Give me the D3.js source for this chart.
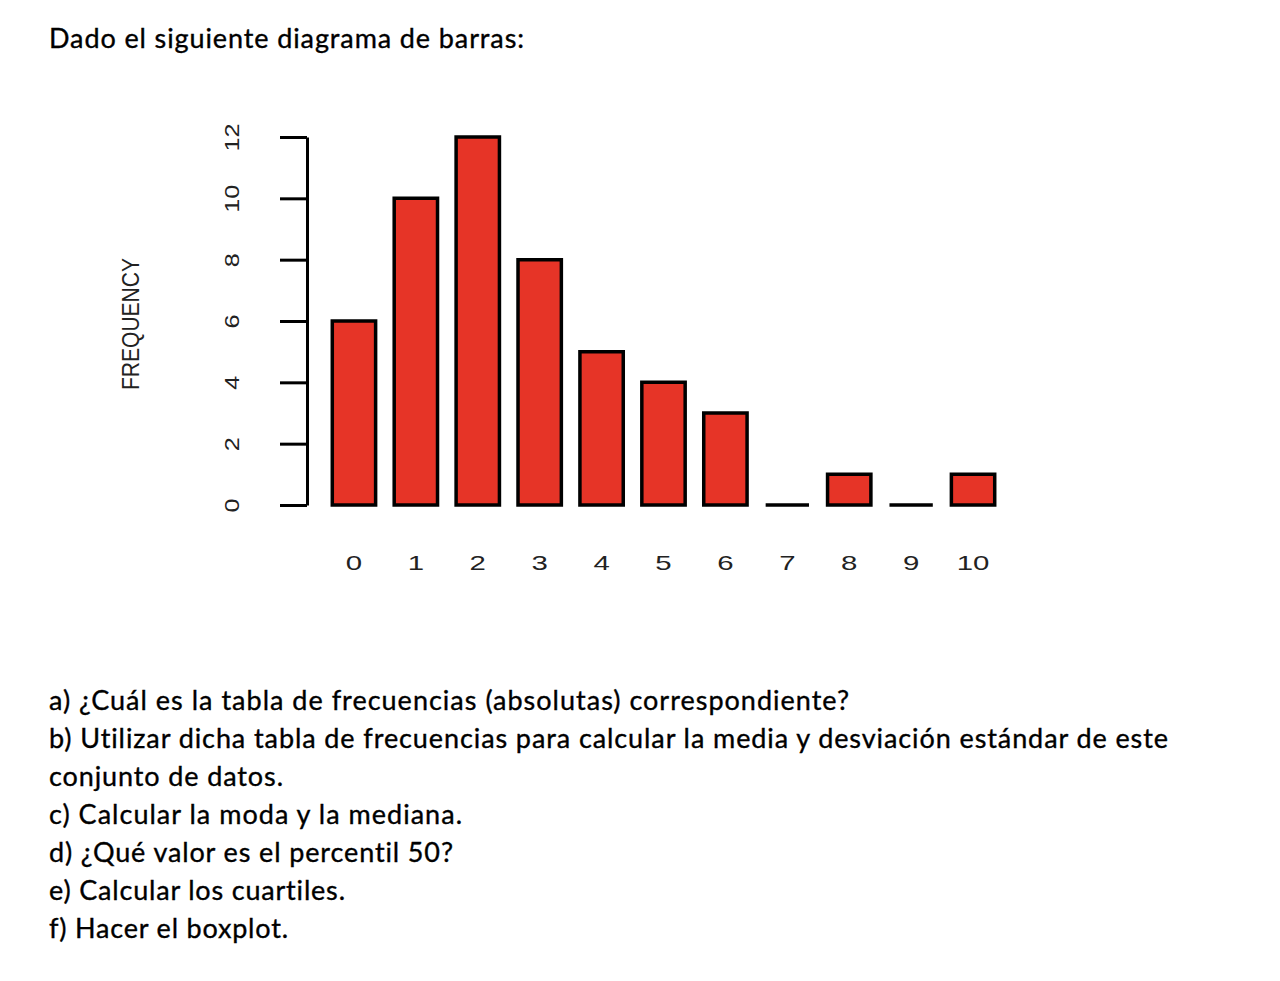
<!DOCTYPE html>
<html>
<head>
<meta charset="utf-8">
<script src="https://cdn.jsdelivr.net/npm/d3@7"></script>
<style>
  body { margin: 0; background: #fff; }
  .para { font-family: Lato, "Open Sans", sans-serif; font-size: 27px; fill: #000; stroke: #000; stroke-width: 0.35px; font-variant-ligatures: none; }
</style>
</head>
<body>
<div id="chart"></div>
<script>
// data
var categories = ["0", "1", "2", "3", "4", "5", "6", "7", "8", "9", "10"];
var frequencies = [6, 10, 12, 8, 5, 4, 3, 0, 1, 0, 1];
var yTicks = [0, 2, 4, 6, 8, 10, 12];

var title = "Dado el siguiente diagrama de barras:";
var questions = [
  "a) ¿Cuál es la tabla de frecuencias (absolutas) correspondiente?",
  "b) Utilizar dicha tabla de frecuencias para calcular la media y desviación estándar de este",
  "conjunto de datos.",
  "c) Calcular la moda y la mediana.",
  "d) ¿Qué valor es el percentil 50?",
  "e) Calcular los cuartiles.",
  "f) Hacer el boxplot."
];
// target widths of the text lines, to match the original layout
var questionWidths = [800, 1119, 234, 413, 404, 296, 239];

var svgWidth = 1280, svgHeight = 981;
var axisFont = "'Liberation Sans', Arial, sans-serif";

var svg = d3.select("#chart")
  .append("svg")
  .attr("width", svgWidth)
  .attr("height", svgHeight);

svg.append("text")
  .attr("class", "para")
  .attr("x", 49)
  .attr("y", 48)
  .attr("textLength", 475)
  .attr("lengthAdjust", "spacing")
  .text(title);

// scales
var x = d3.scaleBand()
  .domain(categories)
  .range([323, 1004])
  .paddingInner(0.3)
  .paddingOuter(0.15);

var y = d3.scaleLinear()
  .domain([0, 12])
  .range([505, 137]);

// y axis, R style: ticks sticking out left, labels rotated
var yAxis = svg.append("g")
  .attr("transform", "translate(307,0)")
  .call(d3.axisLeft(y).tickValues(yTicks).tickSize(27).tickSizeOuter(0));

yAxis.select(".domain")
  .attr("stroke", "#000")
  .attr("stroke-width", 3);
yAxis.selectAll(".tick line")
  .attr("stroke", "#000")
  .attr("stroke-width", 3);
yAxis.selectAll(".tick text")
  .attr("transform", "rotate(-90) scale(1.2,1)")
  .attr("x", 0)
  .attr("y", -75)
  .attr("dy", "0.35em")
  .style("text-anchor", "middle")
  .style("font-family", axisFont)
  .style("font-size", "21px")
  .style("fill", "#222");

svg.append("text")
  .attr("transform", "translate(139,324) rotate(-90)")
  .attr("text-anchor", "middle")
  .attr("textLength", 132)
  .attr("lengthAdjust", "spacingAndGlyphs")
  .style("font-family", axisFont)
  .style("font-size", "23px")
  .style("fill", "#222")
  .text("FREQUENCY");

// bars as closed paths so zero-height bars still show their outline
svg.selectAll("path.bar")
  .data(frequencies)
  .enter()
  .append("path")
  .attr("class", "bar")
  .attr("d", function(d, i) {
    var x0 = x(categories[i]), x1 = x0 + x.bandwidth();
    return "M" + x0 + "," + y(0) + "V" + y(d) + "H" + x1 + "V" + y(0) + "Z";
  })
  .attr("fill", "#E63427")
  .attr("stroke", "#000")
  .attr("stroke-width", 3.5);

// category labels (no axis line)
var xAxis = svg.append("g")
  .attr("transform", "translate(0,555)")
  .call(d3.axisBottom(x).tickSize(0).tickPadding(0));
xAxis.select(".domain").remove();
xAxis.selectAll(".tick text")
  .attr("y", 0)
  .attr("dy", "0.35em")
  .attr("transform", "translate(0,8) scale(1.4,1)")
  .style("font-family", axisFont)
  .style("font-size", "21px")
  .style("fill", "#222");

// questions below the chart
svg.selectAll("text.q")
  .data(questions)
  .enter()
  .append("text")
  .attr("class", "para q")
  .attr("x", 49)
  .attr("y", (d, i) => 710 + i * 38)
  .attr("textLength", (d, i) => questionWidths[i])
  .attr("lengthAdjust", "spacing")
  .text(d => d);
</script>
</body>
</html>
